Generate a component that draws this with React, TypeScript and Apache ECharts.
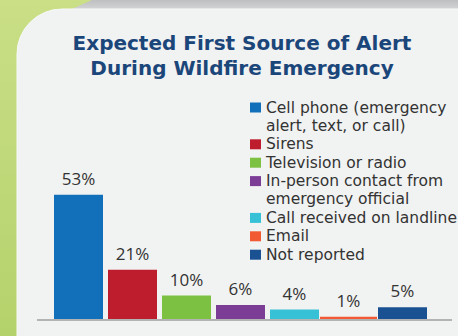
import React, { useEffect, useRef } from "react";
import * as echarts from "echarts";

const categories = [
  "Cell phone (emergency\nalert, text, or call)",
  "Sirens",
  "Television or radio",
  "In-person contact from\nemergency official",
  "Call received on landline",
  "Email",
  "Not reported",
];
const values = [53, 21, 10, 6, 4, 1, 5];
const colors = ["#1170b9", "#be1d2d", "#7dc143", "#7c3d97", "#37c1d6", "#f15a32", "#1a5192"];
const titleText = "Expected First Source of Alert\nDuring Wildfire Emergency";

const LH = 18.4;
const LEGEND_FIRST = 107.5;

export default function App() {
  const ref = useRef<HTMLDivElement>(null);
  useEffect(() => {
    if (!ref.current) return;
    const chart = echarts.init(ref.current, null, { renderer: "svg" });
    const series = categories.map((name, i) => {
      const isWide = name === "Email";
      return {
        type: "bar",
        name,
        xAxisIndex: isWide ? 1 : 0,
        stack: isWide ? undefined : "all",
        barWidth: isWide ? 57 : 49,
        data: categories.map((_, j) => (j === i ? values[i] : "-")),
        itemStyle: { color: colors[i] },
        label: {
          show: true,
          position: "top",
          distance: 8,
          formatter: "{c}%",
          fontFamily: "Open Sans",
          fontSize: 17,
          color: "#333",
        },
        z: 2,
      };
    });

    let lineIdx = 0;
    const legends = categories.map((name) => {
      const lines = name.split("\n").length;
      const c = LEGEND_FIRST + lineIdx * LH;
      lineIdx += lines;
      const multi = lines > 1;
      return {
        orient: "vertical",
        left: 250,
        top: multi ? c - 1.5 * LH : c - 0.5 * LH,
        padding: 0,
        itemWidth: 11,
        itemHeight: 10,
        icon: "rect",
        selectedMode: false,
        textStyle: {
          fontFamily: "DejaVu Sans",
          fontSize: 15.5,
          color: "#333",
          lineHeight: LH,
          rich: { t: {} },
          padding: multi ? [LH, 0, 0, 0] : 0,
        },
        data: [name],
      };
    });

    chart.setOption({
      animation: false,
      backgroundColor: {
        type: "linear",
        x: 0, y: 0, x2: 0, y2: 1,
        colorStops: [
          { offset: 0, color: "#cadf86" },
          { offset: 1, color: "#b4d26c" },
        ],
      },
      title: {
        text: titleText,
        left: 242,
        textAlign: "center",
        top: 31,
        padding: 0,
        textStyle: {
          fontFamily: "DejaVu Sans",
          fontWeight: "bold",
          fontSize: 20,
          lineHeight: 24.5,
          color: "#1b467a",
        },
      },
      legend: legends,
      grid: { left: 51.5, width: 378, top: 178.3, height: 140.7 },
      xAxis: [
        { type: "category", data: categories, show: false },
        { type: "category", data: categories, show: false, gridIndex: 0 },
      ],
      yAxis: { type: "value", min: 0, max: 60, show: false },
      graphic: [
        {
          type: "polygon",
          z: 0,
          shape: { points: [[92, 0], [458, 0], [458, 9], [72, 9]] },
          style: {
            fill: {
              type: "linear", x: 0, y: 0, x2: 0, y2: 1,
              colorStops: [
                { offset: 0, color: "#bdbfc0" },
                { offset: 1, color: "#d2d3d4" },
              ],
            },
          },
        },
        {
          type: "rect",
          z: 0,
          shape: { x: 17, y: 9, width: 460, height: 340, r: [45, 0, 0, 0] },
          style: { fill: "#f1f2f2", stroke: "#f8f9f8", lineWidth: 1 },
        },
        {
          type: "line",
          z: 1,
          shape: { x1: 37, y1: 320, x2: 452, y2: 320 },
          style: { stroke: "#b3b3b3", lineWidth: 2 },
        },
      ],
      series,
    });
    return () => chart.dispose();
  }, []);
  return (
    <div
      ref={ref}
      style={{ position: "fixed", left: 0, top: 0, width: 458, height: 336 }}
    />
  );
}
